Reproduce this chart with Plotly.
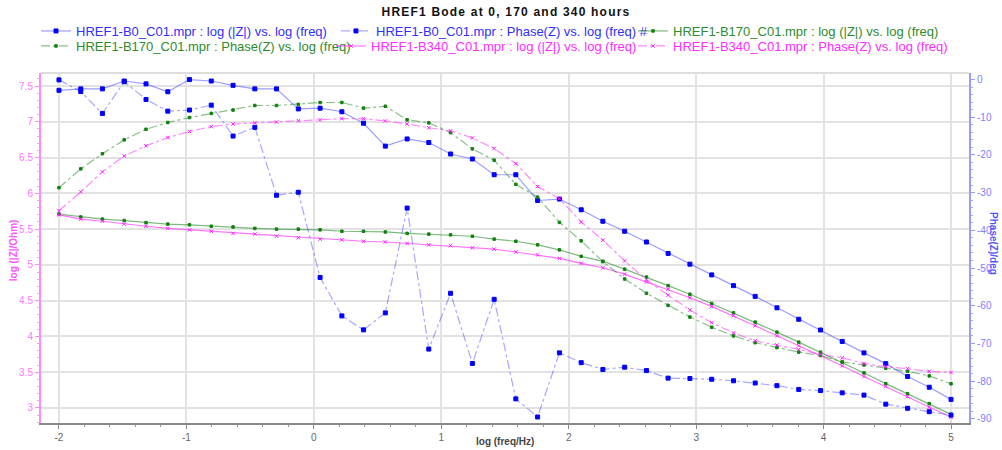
import plotly.graph_objects as go

# log10 of frequency (Hz), 42 points from 10 mHz to 100 kHz
log_freq = [-2.000, -1.829, -1.659, -1.488, -1.317, -1.146, -0.976, -0.805, -0.634, -0.463,
            -0.293, -0.122, 0.049, 0.220, 0.390, 0.561, 0.732, 0.902, 1.073, 1.244,
            1.415, 1.585, 1.756, 1.927, 2.098, 2.268, 2.439, 2.610, 2.780, 2.951,
            3.122, 3.293, 3.463, 3.634, 3.805, 3.976, 4.146, 4.317, 4.488, 4.659,
            4.829, 5.000]

# B0 (0 hours)
b0_logz = [7.44, 7.46, 7.46, 7.57, 7.53, 7.42, 7.59, 7.57, 7.51, 7.46,
           7.46, 7.18, 7.19, 7.14, 6.98, 6.66, 6.76, 6.71, 6.55, 6.48,
           6.26, 6.26, 5.90, 5.92, 5.77, 5.61, 5.47, 5.32, 5.16, 5.01,
           4.86, 4.71, 4.56, 4.40, 4.24, 4.09, 3.93, 3.77, 3.62, 3.44,
           3.29, 3.12]
b0_phase = [-0.1, -3.2, -9.0, -0.6, -5.3, -8.4, -8.1, -6.8, -15.0, -12.7,
            -30.7, -29.9, -52.5, -62.7, -66.4, -61.9, -34.1, -71.5, -56.7, -75.3,
            -58.3, -84.7, -89.5, -72.5, -75.1, -76.9, -76.3, -77.2, -79.2, -79.3,
            -79.5, -79.9, -80.5, -81.2, -82.2, -82.5, -83.1, -83.7, -86.1, -87.2,
            -88.1, -89.0]

# B170 (170 hours)
b170_logz = [5.71, 5.67, 5.64, 5.62, 5.59, 5.57, 5.56, 5.54, 5.53, 5.51,
             5.50, 5.50, 5.49, 5.47, 5.47, 5.46, 5.44, 5.43, 5.42, 5.40,
             5.36, 5.33, 5.28, 5.21, 5.12, 5.05, 4.94, 4.83, 4.71, 4.59,
             4.46, 4.33, 4.20, 4.06, 3.92, 3.78, 3.64, 3.49, 3.34, 3.20,
             3.06, 2.91]
b170_phase = [-28.7, -23.7, -19.7, -16.0, -13.2, -11.4, -10.1, -9.0, -8.1, -6.9,
              -6.9, -6.6, -6.1, -6.1, -7.6, -7.1, -10.7, -11.5, -14.1, -18.4,
              -21.4, -27.8, -31.2, -37.9, -42.8, -48.3, -52.9, -56.7, -59.9, -63.0,
              -65.7, -68.0, -69.8, -71.1, -72.3, -73.2, -74.9, -75.7, -76.6, -77.4,
              -78.6, -80.7]

# B340 (340 hours)
b340_logz = [5.70, 5.64, 5.61, 5.57, 5.54, 5.51, 5.49, 5.47, 5.44, 5.43,
             5.40, 5.38, 5.36, 5.35, 5.33, 5.32, 5.30, 5.28, 5.27, 5.24,
             5.22, 5.18, 5.14, 5.09, 5.02, 4.96, 4.87, 4.76, 4.66, 4.54,
             4.42, 4.29, 4.15, 4.01, 3.87, 3.74, 3.59, 3.44, 3.30, 3.16,
             3.01, 2.87]
b340_phase = [-34.8, -29.8, -24.5, -20.3, -17.6, -15.4, -13.8, -12.5, -11.8, -11.5,
              -11.3, -10.9, -10.7, -10.4, -10.4, -11.0, -11.8, -12.8, -13.6, -15.5,
              -18.3, -22.3, -28.4, -31.6, -37.8, -42.6, -48.1, -53.1, -57.2, -61.1,
              -64.5, -67.2, -69.3, -70.4, -71.6, -72.9, -73.8, -75.3, -76.2, -76.7,
              -77.4, -77.7]

x_ticks = [-2, -1, 0, 1, 2, 3, 4, 5]
z_ticks = [3, 3.5, 4, 4.5, 5, 5.5, 6, 6.5, 7, 7.5]
phase_ticks = [0, -10, -20, -30, -40, -50, -60, -70, -80, -90]

FONT = "Liberation Sans, Arial, sans-serif"

# name, values, y axis, dash, line colour, marker colour, symbol, size, text colour,
# legend id, legend left edge (px), legend row centre (px)
series = [
    ("HREF1-B0_C01.mpr : log (|Z|) vs. log (freq)", b0_logz, "y", "solid",
     "rgba(60,60,255,0.5)", "#0000ff", "square", 4, "#2f2fff", "legend", 36, 31),
    ("HREF1-B0_C01.mpr : Phase(Z) vs. log (freq) #", b0_phase, "y2", "dashdot",
     "rgba(60,60,255,0.45)", "#0000ff", "square", 4, "#2f2fff", "legend2", 336, 31),
    ("HREF1-B170_C01.mpr : log (|Z|) vs. log (freq)", b170_logz, "y", "solid",
     "rgba(40,140,40,0.6)", "#108010", "square", 2.5, "#2e8b2e", "legend3", 633, 31),
    ("HREF1-B170_C01.mpr : Phase(Z) vs. log (freq)", b170_phase, "y2", "dashdot",
     "rgba(40,140,40,0.55)", "#108010", "square", 2.5, "#2e8b2e", "legend4", 36, 46),
    ("HREF1-B340_C01.mpr : log (|Z|) vs. log (freq)", b340_logz, "y", "solid",
     "rgba(255,40,255,0.65)", "#ff20ff", "x-thin", 3.5, "#ff2bff", "legend5", 331, 46),
    ("HREF1-B340_C01.mpr : Phase(Z) vs. log (freq)", b340_phase, "y2", "dashdot",
     "rgba(255,40,255,0.55)", "#ff20ff", "x-thin", 3.5, "#ff2bff", "legend6", 633, 46),
]

fig = go.Figure()
legends = {}
for name, vals, yax, dash, lcol, mcol, sym, msize, tcol, leg, lx, ly in series:
    fig.add_trace(go.Scatter(
        x=log_freq, y=vals, yaxis=yax, mode="lines+markers", legend=leg,
        name=f'<span style="color:{tcol}">{name}</span>',
        line=dict(color=lcol, width=1.2, dash=dash),
        marker=dict(color=mcol, symbol=sym, size=msize,
                    line=dict(color=mcol, width=1)),
    ))
    legends[leg] = dict(
        orientation="h", xref="container", yref="container",
        x=lx / 1002, y=1 - ly / 450, xanchor="left", yanchor="middle",
        font=dict(family=FONT, size=13), bgcolor="rgba(0,0,0,0)", itemwidth=30,
    )

grid = "#e2e2e2"
fig.update_layout(
    width=1002, height=450,
    margin=dict(l=41, r=33, t=73, b=27, autoexpand=False),
    paper_bgcolor="white", plot_bgcolor="white",
    font=dict(family=FONT, size=11, color="#555"),
    title=dict(
        text='<span style="letter-spacing:1.2px">HREF1 Bode at 0, 170 and 340 hours</span>',
        x=0.505, xanchor="center", y=1 - 12 / 450, yref="container", yanchor="middle",
        font=dict(family=FONT, size=12, color="#111", weight="bold"),
    ),
    showlegend=True,
    xaxis=dict(
        range=[-2.141, 5.141], tickvals=x_ticks, ticktext=[str(v) for v in x_ticks],
        showgrid=True, gridcolor=grid, gridwidth=1.5, zeroline=False,
        showline=True, linecolor="#888", linewidth=1.5,
        ticks="outside", ticklen=4, tickcolor="#888",
        tickfont=dict(size=10, color="#666"),
        minor=dict(dtick=0.2, ticks="outside", ticklen=2, tickcolor="#999", showgrid=False),
    ),
    yaxis=dict(
        range=[2.790, 7.682], tickvals=z_ticks, ticktext=[f"{v:g}" for v in z_ticks],
        showgrid=True, gridcolor=grid, gridwidth=2, zeroline=False,
        showline=True, linecolor="#ff88ff", linewidth=2,
        ticks="outside", ticklen=4, tickcolor="#ff88ff",
        tickfont=dict(size=10, color="#ff77ff"),
        minor=dict(dtick=0.1, ticks="outside", ticklen=2, tickcolor="#ff99ff", showgrid=False),
    ),
    yaxis2=dict(
        range=[-91.1, 1.72], overlaying="y", side="right", anchor="x",
        tickvals=phase_ticks, ticktext=[str(v) for v in phase_ticks],
        showgrid=False, zeroline=False,
        showline=True, linecolor="#9a9aff", linewidth=2,
        ticks="outside", ticklen=4, tickcolor="#9a9aff",
        tickfont=dict(size=10, color="#8080ff"),
        minor=dict(dtick=2, ticks="outside", ticklen=2, tickcolor="#a8a8ff", showgrid=False),
    ),
    shapes=[
        dict(type="line", xref="paper", yref="paper", x0=0, x1=1, y0=1, y1=1,
             line=dict(color="#dddddd", width=2), layer="below"),
        dict(type="line", xref="x", yref="paper", x0=0, x1=0, y0=0, y1=1,
             line=dict(color="#ffc080", width=1.5), layer="below"),
    ],
    annotations=[
        dict(text="<b>log (|Z|/Ohm)</b>", xref="paper", yref="paper",
             x=-0.030, y=0.494, textangle=-90, showarrow=False,
             xanchor="center", yanchor="middle",
             font=dict(family=FONT, size=10, color="#ff55ff")),
        dict(text="<b>Phase(Z)/deg</b>", xref="paper", yref="paper",
             x=1.027, y=0.514, textangle=90, showarrow=False,
             xanchor="center", yanchor="middle",
             font=dict(family=FONT, size=10, color="#5555ff")),
        dict(text="<b>log (freq/Hz)</b>", xref="paper", yref="paper",
             x=0.5, y=-18 / 350, showarrow=False, xanchor="center", yanchor="middle",
             font=dict(family=FONT, size=10, color="#444")),
    ],
)
fig.update_layout(**legends)

fig.write_html("out.html")
